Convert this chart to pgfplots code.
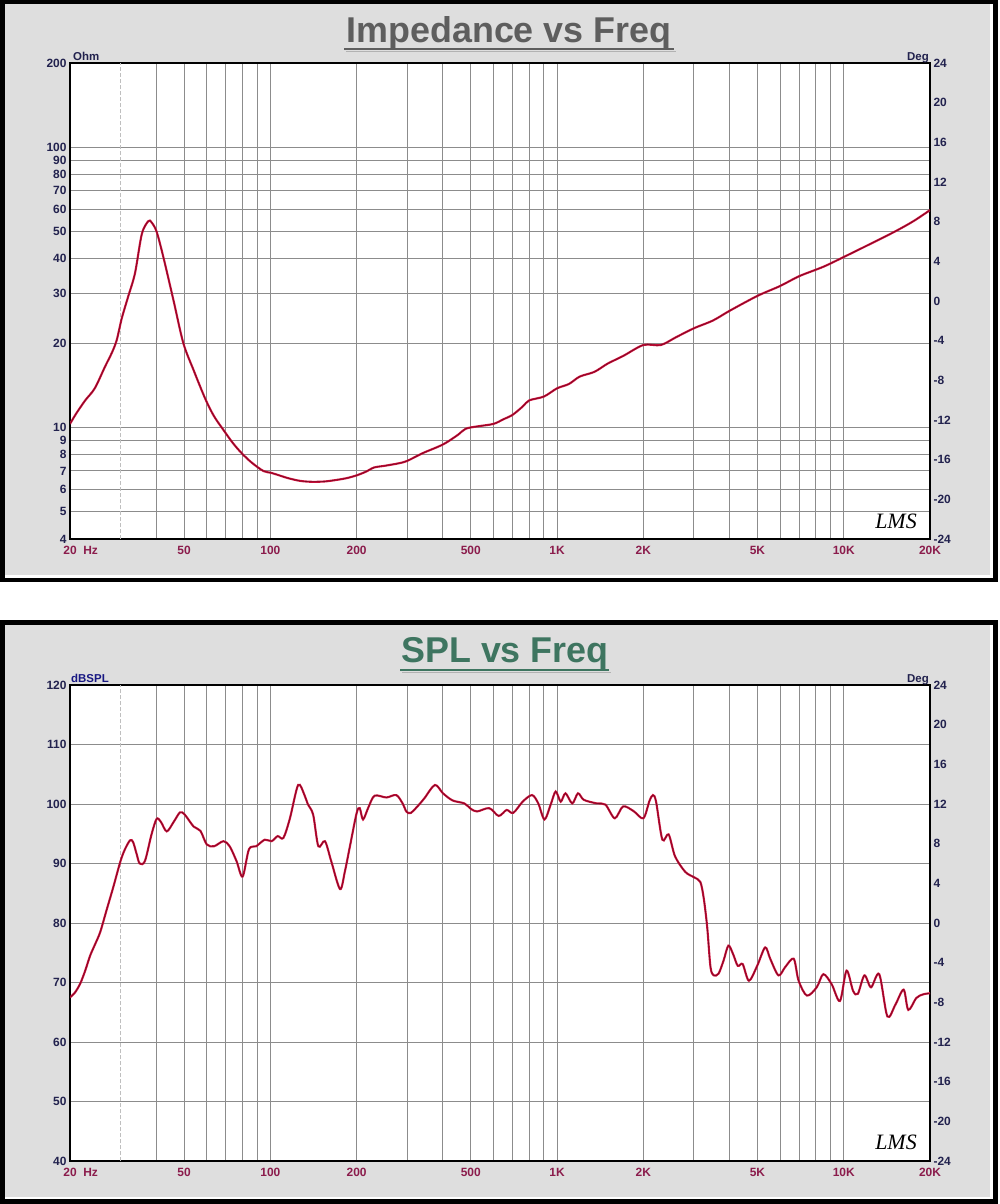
\documentclass[border=0pt]{standalone}
\usepackage{pgfplots}
\usepackage{pgfplotstable}
\pgfplotsset{compat=1.18}
\usepackage{fontspec}
\setmainfont{Liberation Sans}
\newfontfamily\lmsfont{Liberation Serif}
\definecolor{panelgray}{HTML}{DEDEDE}
\definecolor{gridgray}{HTML}{8C8C8C}
\definecolor{ticknavy}{HTML}{22224E}
\definecolor{xlabcol}{HTML}{8B1C4C}
\definecolor{curvered}{HTML}{D0103C}
\definecolor{titlegray}{HTML}{5E5E5E}
\definecolor{titlegreen}{HTML}{3E7560}

\pgfplotstableread{
f z
20 10.3
21 11.2
22.6 12.5
24.4 13.8
26.5 16.5
28 18.5
29.1 20.5
30.3 24.5
31.9 29.3
33.7 35.5
35.6 49
37.5 54.5
38.5 54
40.1 50
42.3 40.7
45.9 28.5
49.7 20
54 16
59.2 12.7
63.5 11.0
68.6 9.8
74 8.8
79.4 8.1
86 7.5
94.4 7.0
100 6.9
105 6.8
115 6.6
127 6.45
140 6.4
155 6.42
170 6.5
185 6.6
200 6.75
215 6.95
230 7.2
250 7.3
280 7.45
300 7.6
340 8.1
400 8.7
450 9.4
480 9.9
530 10.1
600 10.3
650 10.7
700 11.1
760 11.9
800 12.5
900 12.9
1000 13.8
1100 14.3
1200 15.2
1350 15.8
1500 16.9
1700 18.0
2000 19.7
2300 19.7
2600 21.0
3000 22.6
3500 24.1
4000 26.1
5000 29.5
6000 32.0
7000 34.7
8500 37.5
10000 40.6
12000 44.5
15000 49.9
17500 54.5
20000 59.7
}\impdata

\pgfplotstableread{
f db
20 67.5
20.8 68.3
21.7 69.8
22.6 72
23.5 74.5
24.5 76.5
25.5 78.5
26.8 82.1
28.3 86
30 90.4
31.1 92.4
32.4 93.9
33.2 93.6
34.2 91.5
35 90
36.5 90.4
38.5 94.9
40.1 97.5
41.5 97
43.5 95.4
46 97
48.4 98.6
50.3 98.2
54 96.2
57 95.5
60 93.2
63.6 92.9
68.6 93.75
72.1 92.9
76.2 90.4
80 87.8
84.2 92.4
89.2 92.9
95.6 94.0
101 93.75
106 94.6
111 94.3
117 97.6
125 103.2
131.5 101.5
135 100
141 98.2
147 92.9
155 93.75
163 90.4
175 85.7
182 88.7
190 93.2
200 98.5
205 99.3
210.5 97.4
220 99.5
231 101.4
254 101.1
275 101.5
290 100
298 98.75
309 98.5
333 100.1
345 101
375 103.2
400 101.8
432 100.6
475 100.1
500 99.2
526 98.75
580 99.3
626 98
667 99
703 98.5
759 100.4
818 101.5
860 100.1
904 97.4
950 99.9
989 102.1
1030 100.4
1070 101.8
1130 100.1
1183 101.8
1240 100.7
1375 100.1
1475 99.9
1590 97.6
1700 99.6
1850 98.8
2000 97.6
2100 100.5
2160 101.5
2215 100.4
2330 94.0
2450 94.9
2580 91.2
2800 88.6
3000 87.7
3160 86.9
3250 84.1
3340 79.3
3430 72.6
3520 71.2
3660 71.5
3810 73.7
3960 76.2
4110 74.8
4270 72.8
4440 73.1
4670 70.3
4990 72.8
5320 75.9
5540 74
5920 71.2
6250 72.6
6690 74
6960 70.3
7440 67.8
8050 69.2
8490 71.4
9080 69.7
9700 66.9
10230 72
10780 68.6
11200 68.1
11810 71.2
12450 69.2
13300 71.4
14200 64.3
15150 66.3
16180 68.8
16800 65.4
17920 67.4
18900 68.0
20000 68.2
}\spldata

\newcommand\tickfont{\fontsize{12}{14}\selectfont\bfseries}

\begin{document}
\begin{tikzpicture}
\path[use as bounding box] (0bp,0bp) rectangle (1000bp,-1204bp);
% top panel
\fill[black] (0bp,0bp) rectangle (998bp,-582bp);
\fill[white] (5bp,-4bp) rectangle (993bp,-578bp);
\fill[panelgray] (5bp,-4bp) rectangle (990bp,-575bp);
% bottom panel
\fill[black] (0bp,-620bp) rectangle (998bp,-1204bp);
\fill[white] (5bp,-625bp) rectangle (993bp,-1199bp);
\fill[panelgray] (5bp,-625bp) rectangle (990bp,-1197bp);

% titles
\node[font=\fontsize{36}{40}\selectfont\bfseries, text=titlegray] at (509bp,-33bp) {Impedance vs Freq};
\draw[titlegray, line width=1.6bp] (344bp,-49bp) -- (674bp,-49bp);
\draw[gray!60, line width=1bp] (346bp,-51.5bp) -- (676bp,-51.5bp);
\node[font=\fontsize{36}{40}\selectfont\bfseries, text=titlegreen] at (505bp,-654bp) {SPL vs Freq};
\draw[titlegreen, line width=1.6bp] (400bp,-670bp) -- (609bp,-670bp);
\draw[gray!60, line width=1bp] (402bp,-672.5bp) -- (611bp,-672.5bp);

% impedance axis
\begin{axis}[at={(70bp,-539bp)}, anchor=south west,
    width=860bp, height=476bp, scale only axis,
    xmode=log, xmin=20, xmax=20000,
    ymode=log, ymin=4, ymax=200,
    xtick={20,50,100,200,500,1000,2000,5000,10000,20000},
    xticklabels={20\rlap{\ \ Hz},50,100,200,500,1K,2K,5K,10K,20K},
    minor xtick={40,60,70,80,90,300,400,600,700,800,900,3000,4000,6000,7000,8000,9000},
    ytick={4,5,6,7,8,9,10,20,30,40,50,60,70,80,90,100,200},
    yticklabels={4,5,6,7,8,9,10,20,30,40,50,60,70,80,90,100,200},
    grid=both,
    major grid style={gridgray, line width=1bp},
    minor grid style={gridgray, line width=1bp},
    major tick length=0pt, minor tick length=0pt,
    axis line style={black, line width=2.4bp},
    axis background/.style={fill=white},
    xticklabel style={font=\tickfont, text=xlabcol, yshift=-4bp},
    yticklabel style={font=\tickfont, text=ticknavy},
]
\draw[gray!50, line width=1bp, dash pattern=on 4bp off 2bp] (axis cs:30,4) -- (axis cs:30,200);
\addplot[curvered, line width=2.1bp, smooth, tension=0.5] table[x=f, y=z] {\impdata};
\addplot[black, opacity=0.4, line width=0.7bp, smooth, tension=0.5] table[x=f, y=z] {\impdata};
\end{axis}
\begin{axis}[at={(70bp,-539bp)}, anchor=south west,
    width=860bp, height=476bp, scale only axis,
    xmin=0, xmax=1, ymin=-24, ymax=24,
    axis x line=none, axis y line*=right,
    y axis line style={draw=none},
    ytick={-24,-20,-16,-12,-8,-4,0,4,8,12,16,20,24},
    yticklabels={-24,-20,-16,-12,-8,-4,0,4,8,12,16,20,24},
    major tick length=0pt,
    yticklabel style={font=\tickfont, text=ticknavy},
]
\addplot[draw=none] coordinates {(0,0)};
\end{axis}

% SPL axis
\begin{axis}[at={(70bp,-1161bp)}, anchor=south west,
    width=860bp, height=476bp, scale only axis,
    xmode=log, xmin=20, xmax=20000,
    ymin=40, ymax=120,
    xtick={20,50,100,200,500,1000,2000,5000,10000,20000},
    xticklabels={20\rlap{\ \ Hz},50,100,200,500,1K,2K,5K,10K,20K},
    minor xtick={40,60,70,80,90,300,400,600,700,800,900,3000,4000,6000,7000,8000,9000},
    ytick={40,50,60,70,80,90,100,110,120},
    yticklabels={40,50,60,70,80,90,100,110,120},
    grid=both,
    major grid style={gridgray, line width=1bp},
    minor grid style={gridgray, line width=1bp},
    major tick length=0pt, minor tick length=0pt,
    axis line style={black, line width=2.4bp},
    axis background/.style={fill=white},
    xticklabel style={font=\tickfont, text=xlabcol, yshift=-4bp},
    yticklabel style={font=\tickfont, text=ticknavy},
]
\draw[gray!50, line width=1bp, dash pattern=on 4bp off 2bp] (axis cs:30,40) -- (axis cs:30,120);
\addplot[curvered, line width=2.1bp, smooth, tension=0.5] table[x=f, y=db] {\spldata};
\addplot[black, opacity=0.4, line width=0.7bp, smooth, tension=0.5] table[x=f, y=db] {\spldata};
\end{axis}
\begin{axis}[at={(70bp,-1161bp)}, anchor=south west,
    width=860bp, height=476bp, scale only axis,
    xmin=0, xmax=1, ymin=-24, ymax=24,
    axis x line=none, axis y line*=right,
    y axis line style={draw=none},
    ytick={-24,-20,-16,-12,-8,-4,0,4,8,12,16,20,24},
    yticklabels={-24,-20,-16,-12,-8,-4,0,4,8,12,16,20,24},
    major tick length=0pt,
    yticklabel style={font=\tickfont, text=ticknavy},
]
\addplot[draw=none] coordinates {(0,0)};
\end{axis}

% unit labels
\node[anchor=base west, font=\fontsize{11.5}{13}\selectfont\bfseries, text=ticknavy, inner sep=0pt] at (73bp,-60bp) {Ohm};
\node[anchor=base east, font=\fontsize{11.5}{13}\selectfont\bfseries, text=ticknavy, inner sep=0pt] at (929bp,-60bp) {Deg};
\node[anchor=base west, font=\fontsize{11.5}{13}\selectfont\bfseries, text=ticknavy!70!blue, inner sep=0pt] at (71bp,-682bp) {dBSPL};
\node[anchor=base east, font=\fontsize{11.5}{13}\selectfont\bfseries, text=ticknavy, inner sep=0pt] at (929bp,-682bp) {Deg};

% LMS logos
\node[font=\fontsize{22}{22}\selectfont\lmsfont\itshape] at (896bp,-521bp) {LMS};
\node[font=\fontsize{22}{22}\selectfont\lmsfont\itshape] at (896bp,-1142bp) {LMS};
\end{tikzpicture}
\end{document}
